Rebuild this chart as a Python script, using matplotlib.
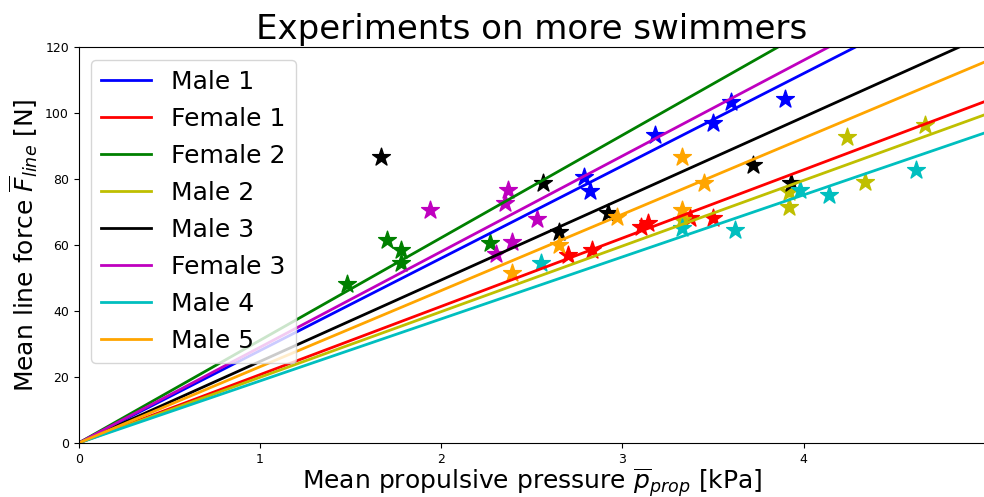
import numpy as np
import matplotlib
matplotlib.use("Agg")
import matplotlib.pyplot as plt

names = ["Male 1", "Female 1", "Female 2", "Male 2", "Male 3", "Female 3", "Male 4", "Male 5"]
colors = ["b", "r", "g", "y", "k", "m", "c", "orange"]
slopes = [28.0, 20.7, 31.1, 19.9, 24.7, 29.0, 18.8, 23.1]

p_male1 = [2.79, 2.82, 3.18, 3.50, 3.60, 3.895]
f_male1 = [80.6, 76.4, 93.3, 97.0, 103.3, 104.2]
p_female1 = [2.70, 2.83, 3.10, 3.14, 3.37, 3.50]
f_female1 = [57.0, 58.5, 65.5, 66.7, 68.2, 68.2]
p_female2 = [1.48, 1.70, 1.78, 1.78, 2.27]
f_female2 = [48.2, 61.5, 58.5, 54.5, 60.6]
p_male2 = [3.33, 3.92, 3.92, 4.24, 4.34, 4.67]
f_male2 = [67.6, 76.1, 71.5, 92.7, 79.1, 96.4]
p_male3 = [1.67, 2.56, 2.65, 2.92, 3.72, 3.93]
f_male3 = [86.7, 78.8, 63.9, 69.7, 84.2, 78.8]
p_female3 = [1.94, 2.30, 2.35, 2.37, 2.39, 2.53]
f_female3 = [70.6, 57.3, 72.7, 76.7, 60.9, 67.9]
p_male4 = [2.55, 3.33, 3.62, 3.98, 4.14, 4.62]
f_male4 = [54.5, 65.2, 64.5, 76.7, 75.2, 82.7]
p_male5 = [2.39, 2.65, 2.97, 3.33, 3.45, 3.33]
f_male5 = [51.5, 60.0, 68.5, 70.6, 78.8, 86.7]

pressures = [p_male1, p_female1, p_female2, p_male2, p_male3, p_female3, p_male4, p_male5]
forces = [f_male1, f_female1, f_female2, f_male2, f_male3, f_female3, f_male4, f_male5]

fig = plt.figure(figsize=(9.84, 4.97), dpi=100)
ax = fig.add_axes([0.080, 0.1087, 0.921, 0.7967])

x_fit = np.linspace(0, 5, 50)
for name, color, k, p, f in zip(names, colors, slopes, pressures, forces):
	ax.plot(x_fit, k * x_fit, color=color, linewidth=2, label=name)
	ax.scatter(p, f, marker="*", s=180, color=color)

ax.set_xlim(0, 5)
ax.set_ylim(0, 120)
ax.set_xticks([0, 1, 2, 3, 4])
ax.tick_params(labelsize=9)
ax.set_title("Experiments on more swimmers", fontsize=24.5)
ax.set_xlabel(r"Mean propulsive pressure $\overline{p}_{prop}$ [kPa]", fontsize=18, labelpad=0)
ax.set_ylabel(r"Mean line force $\overline{F}_{line}$ [N]", fontsize=18)
ax.legend(loc="upper left", fontsize=18, labelspacing=0.52)

fig.savefig("out.png", dpi=100)
